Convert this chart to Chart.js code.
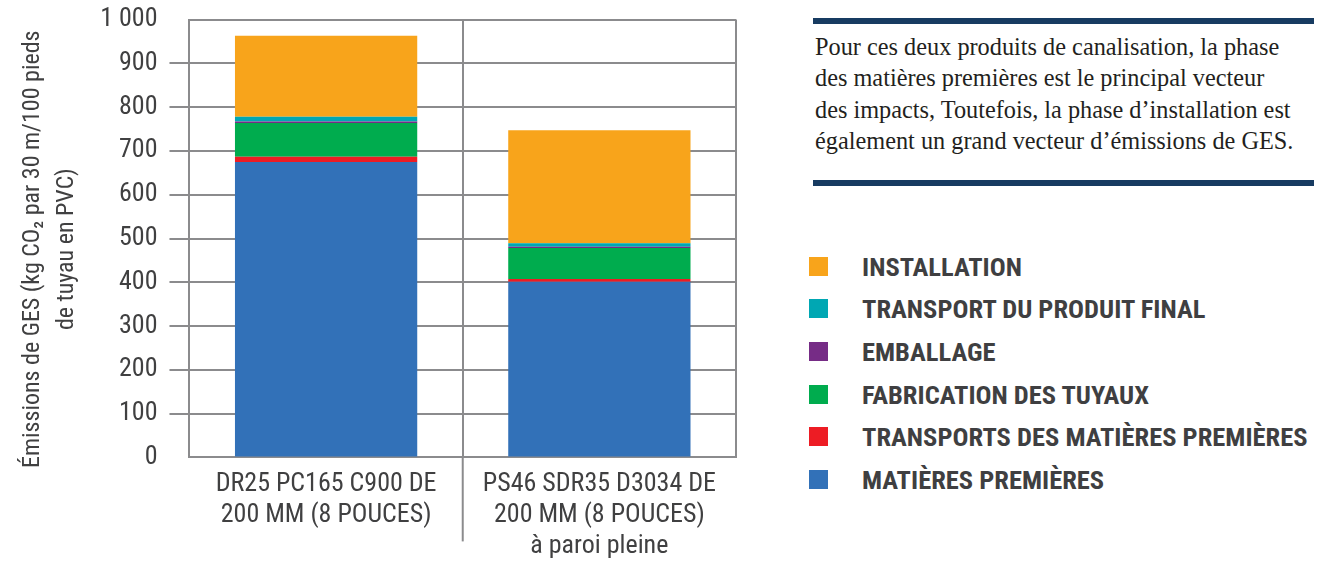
<!DOCTYPE html>
<html>
<head>
<meta charset="utf-8">
<script src="https://cdn.jsdelivr.net/npm/chart.js@4"></script>
<style>
  body { margin: 0; background: #fff; overflow: hidden; }
  #wrap { position: relative; width: 1325px; height: 563px; overflow: hidden; }
  #myChart { position: absolute; left: 0; top: -8px; }
  .rule { position: absolute; left: 813px; width: 501px; height: 6px; background: #173b61; }
  #note { position: absolute; left: 815px; top: 31px; font-family: "Liberation Serif", "DejaVu Serif", serif;
          font-size: 24.3px; line-height: 31.4px; color: #231f20; }
  #legend { position: absolute; left: 809px; top: 245px; margin: 0; padding: 0; list-style: none; }
  #legend li { height: 42.6px; display: flex; align-items: center;
               font-family: "Liberation Sans Narrow", "Roboto Condensed", "DejaVu Sans Condensed", sans-serif;
               font-weight: bold; font-size: 26.5px; color: #3f3f41; }
  #legend span.sw { display: inline-block; width: 19px; height: 19px; margin-right: 34px; }
</style>
</head>
<body>
<div id="wrap">
  <canvas id="myChart" width="760" height="573"></canvas>
  <div class="rule" style="top:18px"></div>
  <div id="note">Pour ces deux produits de canalisation, la phase<br>des matières premières est le principal vecteur<br>des impacts, Toutefois, la phase d’installation est<br>également un grand vecteur d’émissions de GES.</div>
  <div class="rule" style="top:180px"></div>
  <ul id="legend"></ul>
</div>
<script>
// categories (x axis labels)
var produits = [
    ["DR25 PC165 C900 DE", "200 MM (8 POUCES)"],
    ["PS46 SDR35 D3034 DE", "200 MM (8 POUCES)", "à paroi pleine"]
];

// values, kg CO2
var matieresPremieres = [675, 401];
var transportsMatieres = [12, 6.5];
var fabrication = [77, 71];
var emballage = [3, 2.5];
var transportFinal = [11, 8];
var installation = [185, 258];

var yTicks = [0, 100, 200, 300, 400, 500, 600, 700, 800, 900, 1000];

var grisLigne = '#8b8b8d';
var texte = '#404041';
var police = '"Liberation Sans Narrow", "Roboto Condensed", "DejaVu Sans Condensed", sans-serif';

// extends the middle separator below the axis
var separateur = {
    id: 'separateur',
    afterDraw: function(chart) {
        var x = chart.scales.x;
        var mid = (x.getPixelForTick(0) + x.getPixelForTick(1)) / 2;
        var c = chart.ctx;
        c.save();
        c.strokeStyle = grisLigne;
        c.lineWidth = 2;
        c.beginPath();
        c.moveTo(mid, chart.chartArea.bottom);
        c.lineTo(mid, chart.chartArea.bottom + 84);
        c.stroke();
        c.restore();
    }
};

var ctx = document.getElementById('myChart').getContext('2d');
var chart = new Chart(ctx, {
    type: 'bar',
    data: {
        labels: produits,
        datasets: [
            { label: 'MATIÈRES PREMIÈRES', data: matieresPremieres, backgroundColor: '#3271b8' },
            { label: 'TRANSPORTS DES MATIÈRES PREMIÈRES', data: transportsMatieres, backgroundColor: '#ed1c24' },
            { label: 'FABRICATION DES TUYAUX', data: fabrication, backgroundColor: '#00ac4e' },
            { label: 'EMBALLAGE', data: emballage, backgroundColor: '#762c86' },
            { label: 'TRANSPORT DU PRODUIT FINAL', data: transportFinal, backgroundColor: '#00a7b3' },
            { label: 'INSTALLATION', data: installation, backgroundColor: '#f8a41b' }
        ]
    },
    options: {
        responsive: false,
        animation: false,
        layout: { padding: { left: 12, top: 0, right: 24, bottom: -8 } },
        plugins: { legend: { display: false }, tooltip: { enabled: false } },
        datasets: { bar: { categoryPercentage: 1, barPercentage: 0.667 } },
        scales: {
            x: {
                stacked: true,
                offset: true,
                grid: { color: grisLigne, lineWidth: 2, drawTicks: false, offset: true },
                border: { color: grisLigne, width: 2 },
                ticks: { color: texte, padding: 11, maxRotation: 0, font: { family: police, size: 26, lineHeight: 1.2 } }
            },
            y: {
                stacked: true,
                min: 0,
                max: 1000,
                afterBuildTicks: function(axis) { axis.ticks = yTicks.map(function(v) { return { value: v }; }); },
                grid: {
                    color: grisLigne, lineWidth: 2, tickLength: 20,
                    tickColor: function(c) { return (c.tick && (c.tick.value === 0 || c.tick.value === 1000)) ? 'rgba(0,0,0,0)' : grisLigne; }
                },
                border: { color: grisLigne, width: 2 },
                ticks: {
                    color: texte, padding: 12, autoSkip: false, font: { family: police, size: 26 },
                    callback: function(v) { return v >= 1000 ? '1 000' : String(v); }
                },
                title: {
                    display: true,
                    text: ['Émissions de GES (kg CO₂ par 30 m/100 pieds\u2002\u2002', 'de tuyau en PVC)\u2002\u2002'],
                    color: texte, padding: 4,
                    font: { family: police, size: 24, lineHeight: 1.42 }
                }
            }
        }
    },
    plugins: [separateur]
});

// legend built from the datasets, top item = last stacked segment
var ul = document.getElementById('legend');
chart.data.datasets.slice().reverse().forEach(function(ds) {
    var li = document.createElement('li');
    li.innerHTML = '<span class="sw" style="background:' + ds.backgroundColor + '"></span>' + ds.label;
    ul.appendChild(li);
});
</script>
</body>
</html>
